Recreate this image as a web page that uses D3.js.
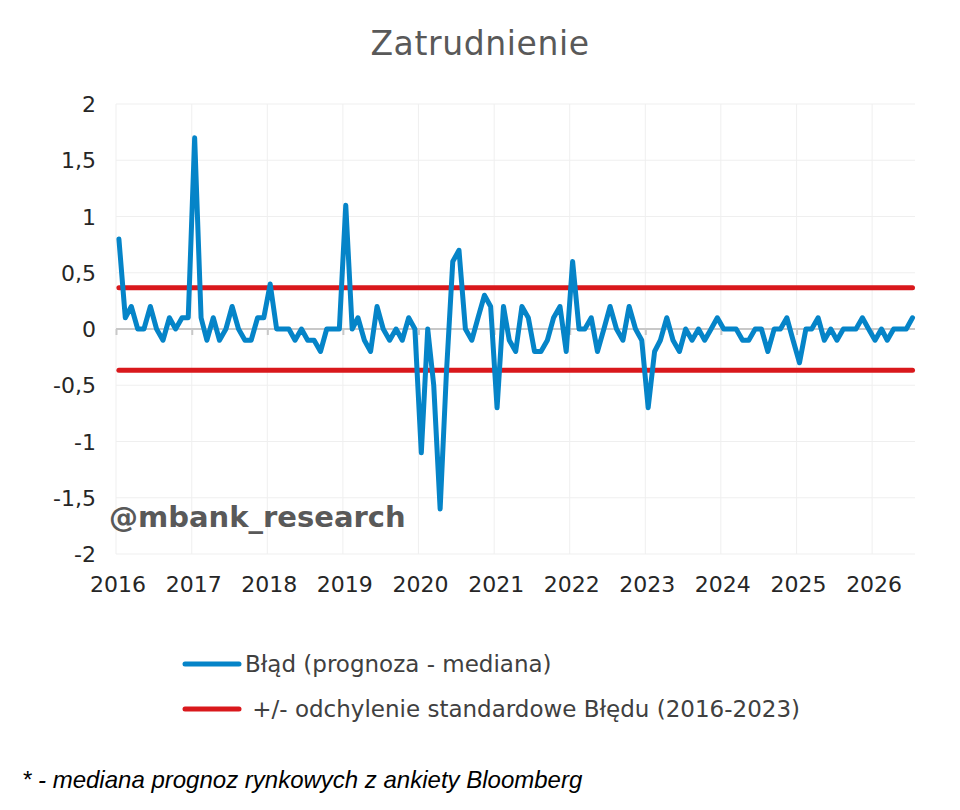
<!DOCTYPE html>
<html>
<head>
<meta charset="utf-8">
<script src="https://cdn.jsdelivr.net/npm/d3@7"></script>
<style>
    body { margin: 0; background: #fff; }
    .chartTitle { font-family: "DejaVu Sans", Verdana, sans-serif; font-size: 33px; letter-spacing: 0.6px; fill: #595959; }
    .axisLabel { font-family: "DejaVu Sans", Verdana, sans-serif; font-size: 22px; fill: #262626; }
    .legendText { font-family: "DejaVu Sans", Verdana, sans-serif; font-size: 23px; fill: #404040; }
    .watermark { font-family: "DejaVu Sans", Verdana, sans-serif; font-size: 29px; font-weight: bold; fill: #595959; }
    .footnote { font-family: "Liberation Sans", Arial, sans-serif; font-size: 24px; font-style: italic; fill: #000; }
</style>
</head>
<body>
<div id="chart"></div>
<script>
// monthly forecast error, Jan 2016 .. Jul 2026
var startYear = 2016;
var errorValues = [
    0.8, 0.1, 0.2, 0, 0, 0.2, 0, -0.1, 0.1, 0, 0.1, 0.1,          // 2016
    1.7, 0.1, -0.1, 0.1, -0.1, 0, 0.2, 0, -0.1, -0.1, 0.1, 0.1,   // 2017
    0.4, 0, 0, 0, -0.1, 0, -0.1, -0.1, -0.2, 0, 0, 0,             // 2018
    1.1, 0, 0.1, -0.1, -0.2, 0.2, 0, -0.1, 0, -0.1, 0.1, 0,       // 2019
    -1.1, 0, -0.5, -1.6, -0.4, 0.6, 0.7, 0, -0.1, 0.1, 0.3, 0.2,  // 2020
    -0.7, 0.2, -0.1, -0.2, 0.2, 0.1, -0.2, -0.2, -0.1, 0.1, 0.2, -0.2, // 2021
    0.6, 0, 0, 0.1, -0.2, 0, 0.2, 0, -0.1, 0.2, 0, -0.1,          // 2022
    -0.7, -0.2, -0.1, 0.1, -0.1, -0.2, 0, -0.1, 0, -0.1, 0, 0.1,  // 2023
    0, 0, 0, -0.1, -0.1, 0, 0, -0.2, 0, 0, 0.1, -0.1,             // 2024
    -0.3, 0, 0, 0.1, -0.1, 0, -0.1, 0, 0, 0, 0.1, 0,              // 2025
    -0.1, 0, -0.1, 0, 0, 0, 0.1                                   // 2026
];
var stdDevBand = 0.366;
var yearLabels = ["2016", "2017", "2018", "2019", "2020", "2021", "2022", "2023", "2024", "2025", "2026"];
var yTickValues = [-2, -1.5, -1, -0.5, 0, 0.5, 1, 1.5, 2];
var legendLabels = ["Błąd (prognoza - mediana)", " +/- odchylenie standardowe Błędu (2016-2023)"];
var titleText = "Zatrudnienie";
var watermarkText = "@mbank_research";
var footnoteText = "* - mediana prognoz rynkowych z ankiety Bloomberg";

/**
 * Constructor for the error chart
 */
function ErrorChart(){
    var self = this;
    self.init();
};

/**
 * Creates the svg and the scales
 */
ErrorChart.prototype.init = function(){
    var self = this;
    self.svgWidth = 960;
    self.svgHeight = 810;
    self.plot = {left: 116, right: 915, top: 104, bottom: 554};

    self.svg = d3.select("#chart").append("svg")
        .attr("width", self.svgWidth)
        .attr("height", self.svgHeight);

    // points sit mid-month, year gridlines on Jan 1
    self.points = errorValues.map(function(v, i){
        return {date: new Date(startYear, i, 15), value: v};
    });
    var last = self.points[self.points.length - 1].date;

    self.xScale = d3.scaleTime()
        .domain([new Date(startYear, 0, 1), last])
        .range([self.plot.left, 912.5]);
    self.yScale = d3.scaleLinear()
        .domain([-2, 2])
        .range([self.plot.bottom, self.plot.top]);
};

/**
 * Draws grid, axes, series, legend and texts
 */
ErrorChart.prototype.update = function(){
    var self = this;
    var x = self.xScale, y = self.yScale;
    var yearDates = yearLabels.map(function(d){ return new Date(+d, 0, 1); });

    self.svg.append("text")
        .attr("class", "chartTitle")
        .attr("x", 480)
        .attr("y", 55)
        .attr("text-anchor", "middle")
        .text(titleText);

    // horizontal gridlines
    self.svg.append("g").selectAll("line")
        .data(yTickValues)
        .enter().append("line")
        .attr("x1", self.plot.left)
        .attr("x2", self.plot.right)
        .attr("y1", function(d){ return y(d); })
        .attr("y2", function(d){ return y(d); })
        .style("stroke", "#efefef")
        .style("stroke-width", 1);

    // vertical gridlines
    self.svg.append("g").selectAll("line")
        .data(yearDates)
        .enter().append("line")
        .attr("x1", function(d){ return x(d); })
        .attr("x2", function(d){ return x(d); })
        .attr("y1", self.plot.top)
        .attr("y2", self.plot.bottom)
        .style("stroke", "#efefef")
        .style("stroke-width", 1);

    // y labels
    var yAxis = d3.axisLeft(y)
        .tickValues(yTickValues)
        .tickSize(0)
        .tickPadding(0)
        .tickFormat(function(d){ return String(d).replace(".", ","); });
    var gy = self.svg.append("g")
        .attr("transform", "translate(96,0)")
        .call(yAxis);
    gy.select(".domain").remove();
    gy.selectAll("text")
        .attr("class", "axisLabel")
        .attr("font-family", null)
        .attr("font-size", null)
        .attr("dy", "0.35em");

    // zero line with year ticks
    var xAxis = d3.axisBottom(x)
        .tickValues(yearDates)
        .tickSize(6)
        .tickFormat("");
    var gx = self.svg.append("g")
        .attr("transform", "translate(0," + y(0) + ")")
        .call(xAxis);
    gx.select(".domain")
        .attr("d", "M" + self.plot.left + ",0H" + self.plot.right)
        .style("stroke", "#c8c8c8")
        .style("stroke-width", 2);
    gx.selectAll(".tick line")
        .style("stroke", "#c8c8c8")
        .style("stroke-width", 2);

    // year labels at the bottom
    self.svg.append("g").selectAll("text")
        .data(yearLabels)
        .enter().append("text")
        .attr("class", "axisLabel")
        .attr("x", function(d){ return x(new Date(+d, 0, 1)) + 2; })
        .attr("y", 592)
        .attr("text-anchor", "middle")
        .text(function(d){ return d; });

    // std dev band
    var first = self.points[0].date, last = self.points[self.points.length - 1].date;
    self.svg.append("g").selectAll("line")
        .data([stdDevBand, -stdDevBand])
        .enter().append("line")
        .attr("x1", x(first))
        .attr("x2", x(last))
        .attr("y1", function(d){ return y(d); })
        .attr("y2", function(d){ return y(d); })
        .style("stroke", "#d9181c")
        .style("stroke-width", 5)
        .style("stroke-linecap", "round");

    // error series
    var line = d3.line()
        .x(function(d){ return x(d.date); })
        .y(function(d){ return y(d.value); });
    self.svg.append("path")
        .datum(self.points)
        .attr("d", line)
        .style("fill", "none")
        .style("stroke", "#0584c8")
        .style("stroke-width", 5)
        .style("stroke-linejoin", "round")
        .style("stroke-linecap", "round");

    self.svg.append("text")
        .attr("class", "watermark")
        .attr("x", 109)
        .attr("y", 527)
        .text(watermarkText);

    // legend
    var legend = self.svg.append("g").selectAll("g")
        .data(legendLabels)
        .enter().append("g")
        .attr("transform", function(d, i){ return "translate(0," + (664 + i * 45) + ")"; });
    legend.append("line")
        .attr("x1", 185)
        .attr("x2", 239)
        .style("stroke", function(d, i){ return i == 0 ? "#0584c8" : "#d9181c"; })
        .style("stroke-width", 5)
        .style("stroke-linecap", "round");
    legend.append("text")
        .attr("class", "legendText")
        .attr("x", 245)
        .attr("y", 8)
        .style("white-space", "pre")
        .text(function(d){ return d; });

    self.svg.append("text")
        .attr("class", "footnote")
        .attr("x", 22)
        .attr("y", 788)
        .text(footnoteText);
};

var chart = new ErrorChart();
chart.update();
</script>
</body>
</html>
